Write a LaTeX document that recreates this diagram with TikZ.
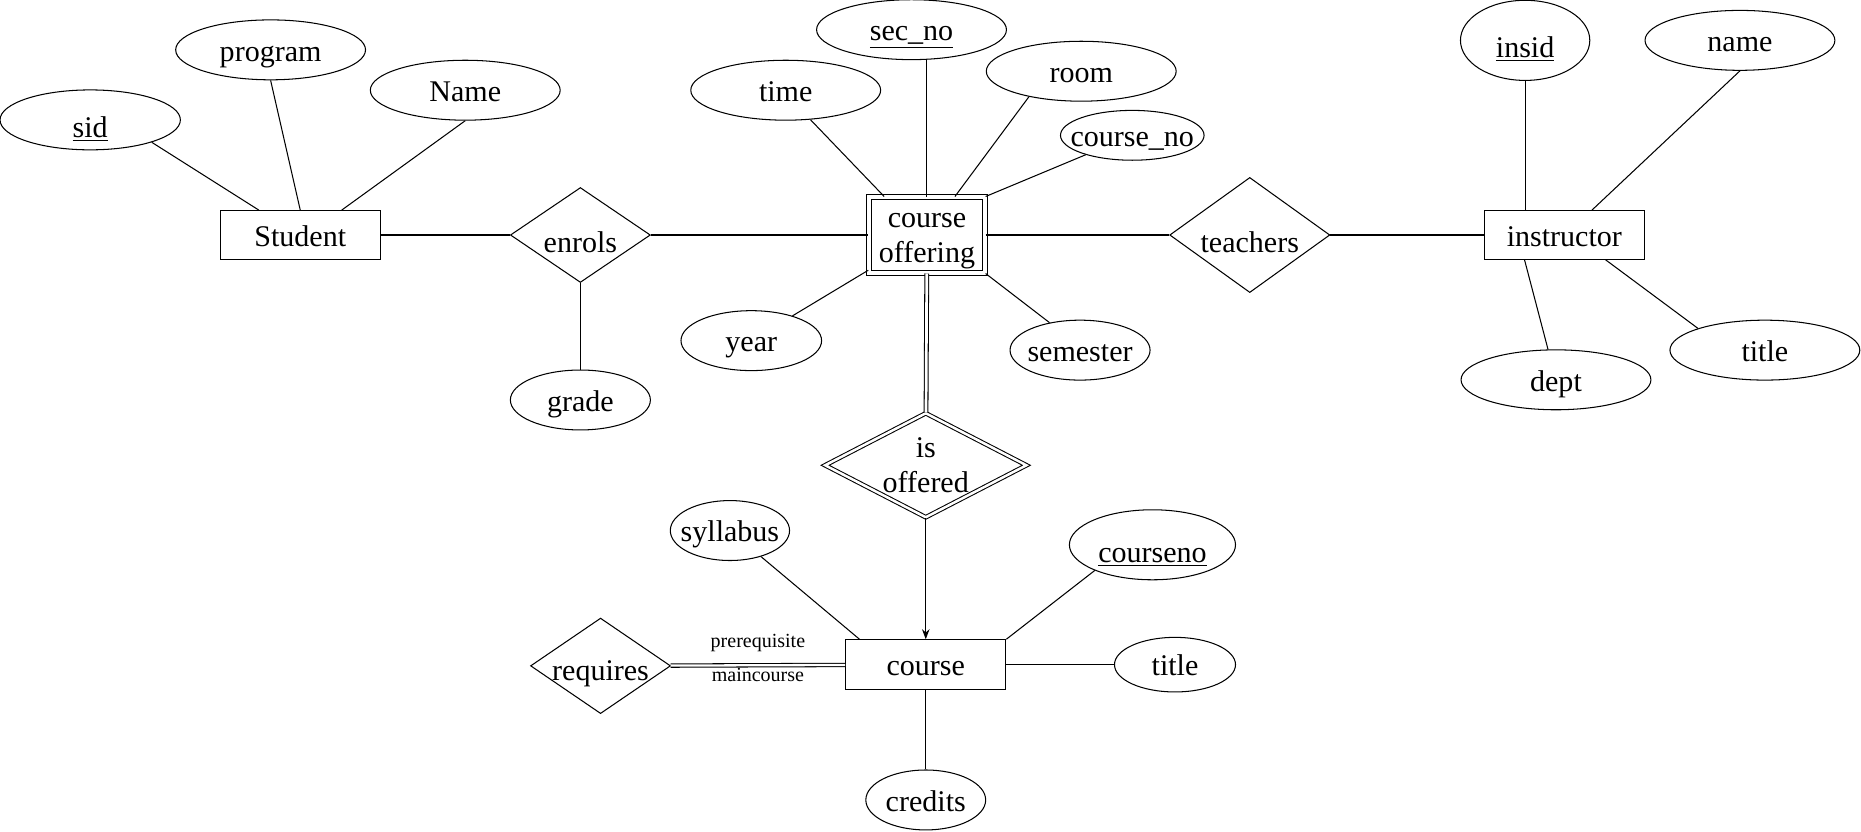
\documentclass[tikz,border=0pt]{standalone}
\usepackage{fontspec}
\setmainfont{Liberation Serif}
\usetikzlibrary{shapes.geometric,arrows.meta}

\begin{document}
\begin{tikzpicture}[
x=0.02cm, y=-0.02cm,
line width=0.5pt,
font=\fontsize{14.4}{16.8}\selectfont,
entity/.style={rectangle, draw=black, minimum width=2.7cm, minimum height=0.82cm, inner sep=0pt, text height=10.8pt, text depth=0pt},
weakentity/.style={entity, double, double distance=2pt, minimum width=1.96cm, minimum height=1.28cm, align=center, text height=, text depth=},
relation/.style={diamond, draw=black, inner sep=-1cm, minimum width=2.36cm, minimum height=1.6cm, text height=10.8pt, text depth=0pt},
weakrelation/.style={relation, double, double distance=1.2pt, align=center, text height=, text depth=},
attribute/.style={ellipse, draw=black, inner sep=-5mm, minimum width=3.2cm, minimum height=1.01cm, text height=10.8pt, text depth=0pt},
lower/.style={text height=#1},
role/.style={font=\fontsize{9.6}{11}\selectfont, inner sep=1pt},
]
\useasboundingbox (0,0) rectangle (1568,701);

% Student
\node[entity] (student) at (253,198) {Student};
\node[attribute, minimum width=3.04cm, lower=17pt] (sid) at (76,101) {\underline{sid}};
\node[attribute] (sprogram) at (228,42) {program};
\node[attribute] (sname) at (392,76) {Name};
\node[relation, lower=17pt] (enrols) at (489,198) {enrols};
\node[attribute, minimum width=2.36cm] (grade) at (489,337) {grade};

% course offering
\node[weakentity] (co) at (781,198) {\rule{0pt}{12.8pt}course\\offering};
\node[attribute] (cotime) at (662,76) {time};
\node[attribute] (cosecno) at (768,25) {\underline{sec\_no}};
\node[attribute] (coroom) at (911,60) {room};
\node[attribute, minimum width=2.42cm, minimum height=0.84cm] (cocourseno) at (954,114) {course\_no};
\node[attribute, minimum width=2.37cm] (coyear) at (633,287) {year};
\node[attribute, minimum width=2.36cm] (cosemester) at (910,295) {semester};

% instructor
\node[relation, minimum width=2.7cm, minimum height=1.94cm, lower=17pt] (teachers) at (1053,198) {teachers};
\node[entity] (instructor) at (1318,198) {instructor};
\node[attribute, minimum width=2.18cm, minimum height=1.35cm, lower=16pt] (insid) at (1285,34) {\underline{insid}};
\node[attribute] (iname) at (1466,34) {name};
\node[attribute] (idept) at (1311,320) {dept};
\node[attribute] (ititle) at (1487,295) {title};

% course
\node[weakrelation, minimum width=3.4cm, minimum height=1.76cm] (isoffered) at (780,392) {is\\offered};
\node[entity, minimum height=0.84cm] (course) at (780,560) {course};
\node[relation, minimum height=1.61cm, lower=14pt] (requires) at (506,561) {requires};
\node[attribute, minimum width=2.01cm] (csyllabus) at (615,447) {syllabus};
\node[attribute, minimum width=2.8cm, minimum height=1.18cm, lower=17pt] (ccourseno) at (971,459) {\underline{courseno}};
\node[attribute, minimum width=2.04cm, minimum height=0.92cm] (ctitle) at (990,560) {title};
\node[attribute, minimum width=2.02cm] (ccredits) at (780,674) {credits};

\draw (sid.-20) -- (student.149);
\draw (sprogram.south) -- (student.north);
\draw (sname.south) -- (student.31);
\draw (student) -- (enrols);
\draw (enrols) -- (co);
\draw (enrols) -- (grade);

\draw (cotime.-50) -- (co.138);
\draw (cosecno.south -| co.north) -- (co.north);
\draw (coroom.206) -- (co.54);
\draw (cocourseno) -- (co.north east);
\draw (coyear) -- (co);
\draw (cosemester.138) -- (co.south east);
\draw (co) -- (teachers);
\draw (teachers) -- (instructor);

\draw (insid) -- (insid |- instructor.north);
\draw (iname.south) -- (instructor.42);
\draw (idept) -- (instructor.212);
\draw (ititle.162) -- (instructor.-31);

\draw[double, double distance=1.3pt] (co) -- (isoffered);
\draw[-{Stealth[length=4.8pt, width=3.6pt]}] (isoffered) -- (course);
\draw[double, double distance=1.1pt] (requires) -- (course)
	node[role, midway, above=5pt] {prerequisite}
	node[role, midway, below] {maincourse};
\draw (csyllabus) -- (course.159);
\draw (ccourseno.204) -- (course.north east);
\draw (course) -- (ctitle);
\draw (course) -- (ccredits);
\end{tikzpicture}
\end{document}
